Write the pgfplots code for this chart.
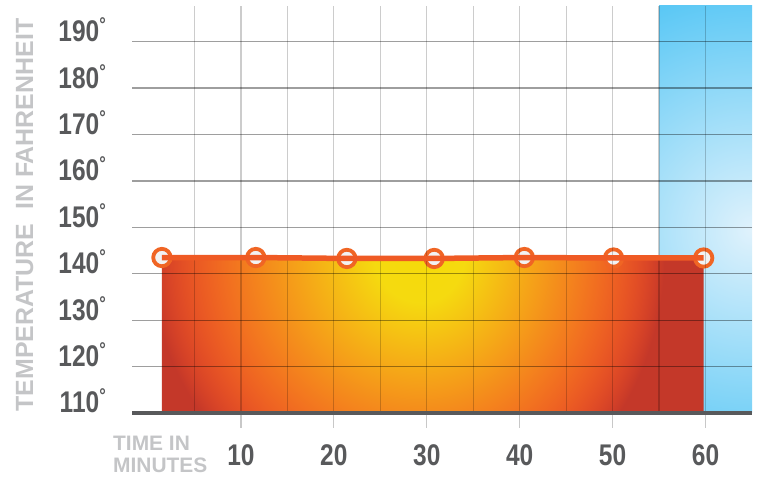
\documentclass[border=0pt]{standalone}
\usepackage{pgfplots}
\pgfplotsset{compat=1.18}
\usepackage{fontspec}
\setmainfont{Liberation Sans}
\newfontfamily\numfont{Liberation Sans}[FakeStretch=0.82]

\definecolor{labgray}{HTML}{58595B}
\definecolor{lightlab}{HTML}{C4C5C7}
\definecolor{lineor}{HTML}{EF5A24}
\definecolor{markor}{HTML}{F06524}
\definecolor{markfill}{HTML}{F2F2F2}
\definecolor{gridv}{HTML}{C8C8C8}

% the middle 50bp square of a shading is stretched over the path
% heat: yellow spot at the top centre, red towards the corners
\pgfdeclarefunctionalshading{heat}{\pgfpoint{-50bp}{-50bp}}{\pgfpoint{50bp}{50bp}}{}{
  3.1 mul 80.5 sub dup mul
  exch 10.86 mul 11 add dup 0 gt {1.12 mul} if dup mul add sqrt 272 div
  dup 1 gt {pop 1} if
  dup dup mul dup mul dup mul 0.19 mul 0.96 exch sub
  exch
  dup 0.77 mul 0.99 exch sub
  dup 0.855 gt {pop 0.855} if
  exch 0.12 mul 0.04 add
}
% sky: pale at the right middle, deeper blue towards the top left
\pgfdeclarefunctionalshading{sky}{\pgfpoint{-50bp}{-50bp}}{\pgfpoint{50bp}{50bp}}{}{
  8.14 mul 20.5 add dup mul
  exch 1.86 mul 46.5 sub dup mul add sqrt 240 div
  dup 1 gt {pop 1} if
  dup 0.521 mul 0.878 exch sub
  exch dup 0.165 mul 0.949 exch sub
  exch 0.027 mul 0.988 exch sub
}

\newcommand\dg{\raisebox{10bp}{\fontsize{20}{20}\selectfont °}}

\begin{document}
\begin{tikzpicture}
\begin{axis}[
  at={(132bp,64bp)}, anchor=south west,
  width=620bp, height=407bp, scale only axis,
  xmin=-1.72, xmax=65,
  ymin=110, ymax=197.7,
  set layers=axis on top,
  axis x line*=bottom, axis y line*=left,
  x axis line style={draw=labgray, line width=4.5bp, -},
  y axis line style={draw=none},
  xtick={10,20,30,40,50,60},
  xticklabels={10,20,30,40,50,60},
  minor xtick={5,15,25,35,45,55},
  ytick={110,120,130,140,150,160,170,180,190},
  yticklabels={110\dg,120\dg,130\dg,140\dg,150\dg,160\dg,170\dg,180\dg,190\dg},
  tick align=outside,
  major tick length=15bp, minor tick length=0pt,
  xtick style={draw=gridv, line width=1.3bp},
  ytick style={draw=none},
  xmajorgrids, xminorgrids, ymajorgrids,
  x grid style={black, opacity=0.2, line width=1.3bp},
  y grid style={black, opacity=0.38, line width=1.3bp},
  ticklabel style={font=\numfont\bfseries\fontsize{30}{30}\selectfont, text=labgray, inner sep=0pt},
  xticklabel style={anchor=base, yshift=-37bp},
  yticklabel style={anchor=base east, xshift=-11bp},
]
% cooling zone
\addplot[draw=none, shade, shading=sky]
  coordinates {(55,197.7) (65,197.7)} \closedcycle;

% area under the temperature curve
\addplot[draw=none, shade, shading=heat]
  coordinates {(1.5,143.5) (11.6,143.5) (21.4,143.3) (30.8,143.3) (40.5,143.5) (50.1,143.4) (59.8,143.4)} \closedcycle;

% temperature line and points
\addplot[on layer=axis foreground, lineor, line width=5.5bp]
  coordinates {(1.5,143.5) (11.6,143.5) (21.4,143.3) (30.8,143.3) (40.5,143.5) (50.1,143.4) (59.8,143.4)};
\addplot[on layer=axis foreground, only marks, mark=*, mark size=8.7bp,
  mark options={mark size=8.7bp, fill=markfill, draw=markor, line width=3.8bp}]
  coordinates {(1.5,143.5) (11.6,143.5) (21.4,143.3) (30.8,143.3) (40.5,143.5) (50.1,143.4) (59.8,143.4)};
\end{axis}

\node[rotate=90, anchor=base, inner sep=0pt, text=lightlab, font=\bfseries\fontsize{25}{25}\selectfont] at (33bp,262bp) {TEMPERATURE\ \ IN FAHRENHEIT};
\node[anchor=base west, inner sep=0pt, text=lightlab, font=\bfseries\fontsize{21}{21}\selectfont] at (113bp,27bp) {TIME IN};
\node[anchor=base west, inner sep=0pt, text=lightlab, font=\bfseries\fontsize{21}{21}\selectfont] at (113bp,5bp) {MINUTES};

\pgfresetboundingbox
\useasboundingbox (0,0) rectangle (758bp,477bp);
\end{tikzpicture}
\end{document}
